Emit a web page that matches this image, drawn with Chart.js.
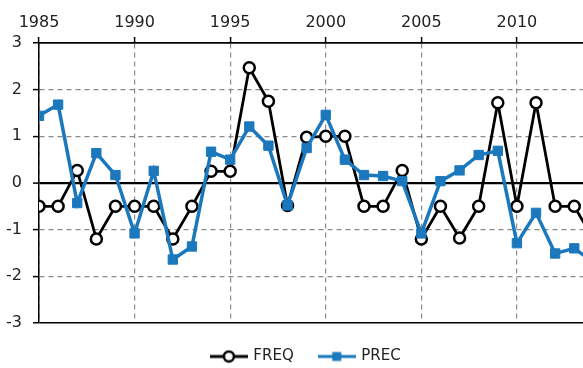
<!DOCTYPE html>
<html lang="en">
<head>
    <meta charset="UTF-8">
    <title>FREQ and PREC anomalies</title>
    <script src="https://cdn.jsdelivr.net/npm/chart.js"></script>
    <style>
        html, body { margin: 0; padding: 0; background: #fff; }
        .wrap { width: 583px; height: 368px; overflow: hidden; position: relative; }
        .inner { width: 632px; height: 374px; }
    </style>
</head>
<body>
    <div class="wrap">
        <div class="inner"><canvas id="chart" width="632" height="374"></canvas></div>
    </div>

    <script>
        // years and values
        const years = [1985, 1986, 1987, 1988, 1989, 1990, 1991, 1992, 1993, 1994,
                       1995, 1996, 1997, 1998, 1999, 2000, 2001, 2002, 2003, 2004,
                       2005, 2006, 2007, 2008, 2009, 2010, 2011, 2012, 2013, 2014];
        const freq = [-0.5, -0.5, 0.27, -1.2, -0.5, -0.5, -0.5, -1.2, -0.5, 0.25,
                      0.25, 2.47, 1.75, -0.48, 0.98, 1.0, 1.0, -0.5, -0.5, 0.27,
                      -1.2, -0.5, -1.18, -0.5, 1.72, -0.5, 1.72, -0.5, -0.5, -1.2];
        const prec = [1.44, 1.68, -0.43, 0.64, 0.17, -1.08, 0.26, -1.64, -1.36, 0.67,
                      0.5, 1.21, 0.8, -0.48, 0.75, 1.46, 0.5, 0.17, 0.15, 0.04,
                      -1.08, 0.04, 0.27, 0.6, 0.69, -1.29, -0.64, -1.51, -1.4, -1.7];
        const yTicks = [-3, -2, -1, 0, 1, 2, 3];
        const xTicks = [1985, 1990, 1995, 2000, 2005, 2010, 2015];

        const BLUE = '#1c78bd';
        const TEXT = '#222';
        const FONT = 'DejaVu Sans, Verdana, sans-serif';

        // legend glyphs: line with marker
        function legendIcon(kind) {
            const c = document.createElement('canvas');
            c.width = 38; c.height = 14;
            const g = c.getContext('2d');
            g.lineWidth = 3;
            g.strokeStyle = kind === 'circle' ? '#000' : BLUE;
            g.beginPath(); g.moveTo(0, 7); g.lineTo(38, 7); g.stroke();
            if (kind === 'circle') {
                g.fillStyle = '#fff';
                g.lineWidth = 2.5;
                g.beginPath(); g.arc(19, 7, 5, 0, Math.PI * 2); g.fill(); g.stroke();
            } else {
                g.fillStyle = BLUE;
                g.fillRect(14.5, 2.5, 9, 9);
            }
            return c;
        }
        const icons = [legendIcon('circle'), legendIcon('rect')];

        const isSolid = v => v === 0 || v === 3 || v === -3;

        new Chart(document.getElementById('chart'), {
            type: 'line',
            data: {
                datasets: [{
                    label: 'FREQ',
                    data: years.map((y, i) => ({ x: y, y: freq[i] })),
                    borderColor: '#000',
                    borderWidth: 2.8,
                    pointStyle: 'circle',
                    pointRadius: 5.5,
                    pointBorderWidth: 2.5,
                    pointBackgroundColor: '#fff',
                    pointBorderColor: '#000',
                    tension: 0,
                    order: 1
                }, {
                    label: 'PREC',
                    data: years.map((y, i) => ({ x: y, y: prec[i] })),
                    borderColor: BLUE,
                    borderWidth: 3.5,
                    pointStyle: 'rect',
                    pointRadius: 6.6,
                    pointBorderWidth: 1,
                    pointBackgroundColor: BLUE,
                    pointBorderColor: BLUE,
                    tension: 0,
                    order: 0
                }]
            },
            options: {
                responsive: false,
                animation: false,
                layout: { padding: { left: 0, right: 19.5, top: 0, bottom: 0 } },
                scales: {
                    x: {
                        type: 'linear',
                        position: 'top',
                        min: 1985,
                        max: 2015,
                        afterBuildTicks: s => { s.ticks = xTicks.map(v => ({ value: v })); },
                        afterFit: s => { s.height = 43; s.paddingLeft = 0; s.paddingRight = 0; },
                        ticks: {
                            color: TEXT,
                            font: { family: FONT, size: 16 },
                            padding: 5,
                            maxRotation: 0,
                            callback: v => String(v)
                        },
                        grid: {
                            color: c => c.tick && c.tick.value === 1985 ? '#000' : '#8a8a8a',
                            lineWidth: 1.2,
                            tickColor: '#000',
                            tickLength: 6,
                            tickWidth: 1.5
                        },
                        border: { display: true, color: '#000', width: 1.5, dash: [5, 4] }
                    },
                    y: {
                        min: -3,
                        max: 3,
                        afterBuildTicks: s => { s.ticks = yTicks.map(v => ({ value: v })); },
                        afterFit: s => { s.width = 39; },
                        ticks: {
                            color: TEXT,
                            font: { family: FONT, size: 16 },
                            padding: 11
                        },
                        grid: {
                            color: c => isSolid(c.tick.value) ? '#000' : '#8a8a8a',
                            lineWidth: c => c.tick.value === 0 ? 2.2 : (isSolid(c.tick.value) ? 1.5 : 1.2),
                            tickColor: '#000',
                            tickLength: 6,
                            tickWidth: 1.5
                        },
                        border: {
                            display: true, color: '#000', width: 1.5,
                            dash: c => isSolid(c.tick.value) ? [] : [5, 4]
                        }
                    }
                },
                plugins: {
                    tooltip: { enabled: false },
                    legend: {
                        position: 'bottom',
                        labels: {
                            color: TEXT,
                            font: { family: FONT, size: 15 },
                            padding: 26,
                            usePointStyle: true,
                            pointStyleWidth: 34,
                            generateLabels: chart => {
                                const items = Chart.defaults.plugins.legend.labels.generateLabels(chart);
                                items.sort((a, b) => a.datasetIndex - b.datasetIndex);
                                return items.map(it => ({ ...it, pointStyle: icons[it.datasetIndex] }));
                            }
                        }
                    }
                }
            }
        });
    </script>
</body>
</html>
